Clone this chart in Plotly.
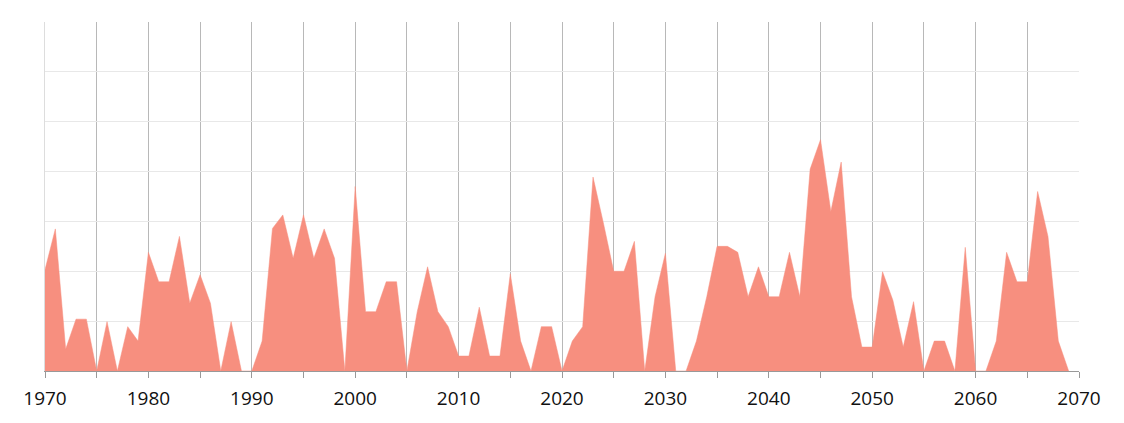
import plotly.graph_objects as go

years = list(range(1970, 2070))
values = [
    20.3, 28.5, 4.4, 10.4, 10.4, 0, 9.9, 0, 8.9, 6.0,
    23.8, 17.9, 17.9, 27.0, 13.6, 19.3, 13.6, 0, 9.9, 0,
    0, 6.0, 28.6, 31.3, 22.6, 31.3, 22.6, 28.5, 22.6, 0,
    37.0, 11.9, 11.9, 17.9, 17.9, 0, 11.9, 20.9, 11.9, 8.9,
    3.0, 3.0, 12.8, 3.0, 3.0, 19.5, 6.0, 0, 8.9, 8.9,
    0, 6.0, 8.9, 38.9, 29.7, 20.0, 20.0, 26.0, 0, 14.9,
    23.6, 0, 0, 6.0, 14.9, 25.0, 25.0, 23.8, 14.9, 20.9,
    14.9, 14.9, 23.8, 14.9, 40.5, 46.4, 32.0, 41.9, 14.9, 4.8,
    4.8, 19.9, 14.2, 4.8, 13.9, 0, 6.0, 6.0, 0, 24.8,
    0, 0, 6.0, 23.8, 17.9, 17.9, 36.0, 27.0, 6.0, 0,
]

tick_vals = list(range(1970, 2071, 5))
tick_text = [str(v) if v % 10 == 0 else "" for v in tick_vals]

fig = go.Figure()
fig.add_trace(go.Scatter(
    x=years, y=values, mode="lines", fill="tozeroy",
    line=dict(color="#F78F7F", width=0.5),
    fillcolor="#F78F7F", hoverinfo="x+y",
))

fig.update_layout(
    width=1124, height=423,
    margin=dict(l=37, r=53, t=14, b=60),
    paper_bgcolor="white", plot_bgcolor="white",
    showlegend=False,
    font=dict(family="Open Sans, sans-serif", size=19, color="#111111"),
)
fig.update_xaxes(
    range=[1970, 2070], tickvals=tick_vals, ticktext=tick_text,
    showgrid=True, gridcolor="#B8B8B8", gridwidth=1,
    showline=True, linecolor="#999999", linewidth=1,
    ticks="outside", ticklen=6, tickcolor="#999999",
    ticklabelstandoff=4,
    zeroline=False, tickangle=0, automargin=False,
)
fig.update_yaxes(
    range=[0, 70], dtick=10, showticklabels=False,
    showgrid=True, gridcolor="#E8E8E8", gridwidth=1,
    showline=True, linecolor="#DDDDDD", zeroline=False, automargin=False,
)

fig.write_html("out.html")
